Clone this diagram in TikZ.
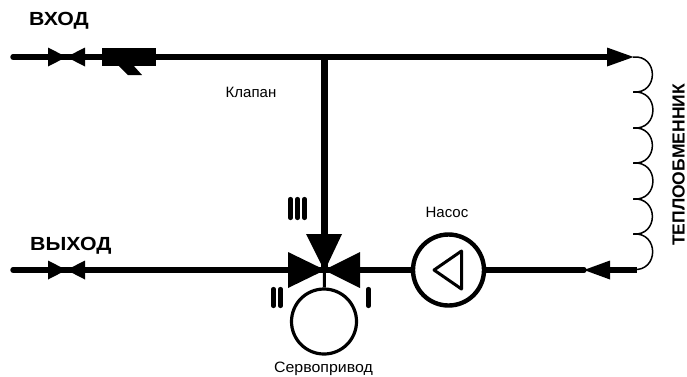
\documentclass[tikz,border=0pt]{standalone}
\usepackage{fontspec}
\setmainfont{Liberation Sans}
\usepackage{tikz}

\tikzset{
  pipe/.style={line width=5.4pt,line cap=round},
  pipeheavy/.style={line width=6.4pt},
  bars/.style={line width=4.2pt,line cap=round},
  title/.style={font=\fontsize{19}{19}\selectfont\bfseries,inner sep=0pt,xscale=1.12},
  sidetitle/.style={font=\fontsize{17.5}{17.5}\selectfont\bfseries,inner sep=0pt,rotate=90,anchor=base},
  caption/.style={font=\fontsize{15}{15}\selectfont,inner sep=0pt}
}

\begin{document}
\begin{tikzpicture}[x=1pt,y=-1pt]
\useasboundingbox (0,0) rectangle (687,376);

\coordinate (inleft) at (13,57);
\coordinate (tee) at (324.5,57);
\coordinate (inright) at (610,57);
\coordinate (mixer) at (324.5,270);
\coordinate (outleft) at (13,270);
\coordinate (retleft) at (584,270);
\coordinate (retmid) at (600,270);
\coordinate (retright) at (637,270);
\coordinate (coil0) at (633,57);
\coordinate (coil1) at (633,92);
\coordinate (coil2) at (633,128);
\coordinate (coil3) at (633,163);
\coordinate (coil4) at (633,199);
\coordinate (coil5) at (633,234);
\coordinate (coil6) at (633,269.5);

\node[draw,circle,line width=4.4pt,minimum size=71pt,inner sep=0pt] (pump) at (448.5,270) {};
\node[draw,circle,line width=3.2pt,minimum size=65pt,inner sep=0pt] (servo) at (324,321.5) {};

% pipes
\draw[pipe] (inleft) -- (inright);
\draw[pipe] (outleft) -- (mixer);
\draw[pipe] (mixer) -- (pump);
\draw[pipe] (pump) -- (retleft);
\draw[pipeheavy] (tee) -- (mixer);
\draw[pipeheavy] (retmid) -- (retright);
\draw[line width=3pt] (mixer) -- (servo);

% valves
\foreach \y in {57,270}
{
\fill (48,\y-9.5) -- (66.5,\y) -- (48,\y+9.5) -- cycle;
\fill (85,\y-9.5) -- (66.5,\y) -- (85,\y+9.5) -- cycle;
}

% strainer
\fill (102,47.5) rectangle (156,66);
\fill (118,65) -- (128,75) -- (142,75) -- (133,65) -- cycle;

% arrows
\fill (607,47.5) -- (633.5,57) -- (607,66.5) -- cycle;
\fill (584,270) -- (610,260.5) -- (610,279.5) -- cycle;

% three way valve
\fill (306,234) -- (342,234) -- (324.5,271) -- cycle;
\fill (288,252) -- (325,270) -- (288,288) -- cycle;
\fill (360,252) -- (324,270) -- (360,288) -- cycle;

% pump triangle
\draw[line width=3pt,line join=round] (434,270) -- (461.5,251) -- (461.5,289) -- cycle;

% heat exchanger
\foreach \a/\b in {0/1,1/2,2/3,3/4,4/5,5/6}
{
\draw[line width=1.5pt] (coil\a) to[out=5,in=-5,looseness=1.9] (coil\b);
}

% marks
\foreach \x in {290.5,297.5,304.5}
{
\draw[bars] (\x,199) -- (\x,218);
}
\foreach \x in {273.5,280.5}
{
\draw[bars] (\x,289) -- (\x,306);
}
\draw[bars] (368.5,289) -- (368.5,306);

% labels
\node[title,anchor=west] (inlabel) at (29,20.5) {ВХОД};
\node[title,anchor=west] (outlabel) at (30,245.5) {ВЫХОД};
\node[sidetitle] (exlabel) at (684.5,165) {ТЕПЛООБМЕННИК};
\node[caption] (valvelabel) at (251,92.5) {Клапан};
\node[caption] (pumplabel) at (447,212.5) {Насос};
\node[caption,xscale=1.06] (servolabel) at (323.5,368.5) {Сервопривод};

\end{tikzpicture}
\end{document}
